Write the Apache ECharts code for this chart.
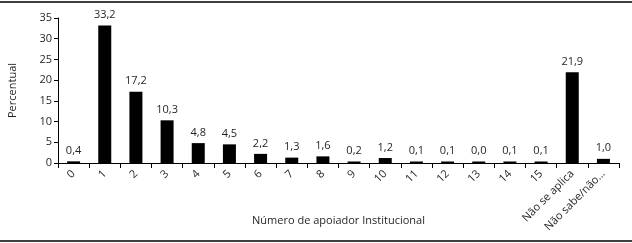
<!DOCTYPE html>
<html><head><meta charset="utf-8">
<script src="https://cdn.jsdelivr.net/npm/echarts@6/dist/echarts.min.js"></script>
<style>html,body{margin:0;padding:0;background:#fff}#c{width:632px;height:243px}</style>
</head><body><div id="c"></div>
<script>
const categories = ['0','1','2','3','4','5','6','7','8','9','10','11','12','13','14','15','Não se aplica','Não sabe/não...'];
const values = [0.4,33.2,17.2,10.3,4.8,4.5,2.2,1.3,1.6,0.2,1.2,0.1,0.1,0.0,0.1,0.1,21.9,1.0];
const yTicks = [0,5,10,15,20,25,30,35];
const xTitle = 'Número de apoiador Institucional';
const yTitle = 'Percentual';

const font = '"Open Sans", "Liberation Sans", sans-serif';
const txt = '#231f20';
const chart = echarts.init(document.getElementById('c'), null, {renderer:'canvas'});
chart.setOption({
  animation:false,
  backgroundColor:'#fff',
  grid:{left:58,right:13,top:18,bottom:80,containLabel:false,outerBoundsMode:'none'},
  graphic:[
    {type:'line',shape:{x1:0,y1:2,x2:632,y2:2},style:{stroke:'#000',lineWidth:1.5}},
    {type:'line',shape:{x1:0,y1:241,x2:632,y2:241},style:{stroke:'#000',lineWidth:1.5}}
  ],
  xAxis:{
    type:'category',data:categories,boundaryGap:true,
    name:xTitle,nameLocation:'middle',nameGap:52,nameMoveOverlap:false,
    nameTextStyle:{fontFamily:font,fontSize:11,color:txt},
    axisLine:{lineStyle:{color:'#000',width:1}},
    axisTick:{show:true,length:5,alignWithLabel:false,lineStyle:{color:'#000'}},
    axisLabel:{rotate:45,interval:0,fontFamily:font,fontSize:11,color:txt,margin:9}
  },
  yAxis:{
    type:'value',min:yTicks[0],max:yTicks[yTicks.length-1],interval:5,
    name:yTitle,nameLocation:'middle',nameGap:40,nameMoveOverlap:false,
    nameTextStyle:{fontFamily:font,fontSize:11,color:txt},
    axisLine:{show:true,lineStyle:{color:'#000'}},
    axisTick:{show:true,length:4,lineStyle:{color:'#000'}},
    splitLine:{show:false},
    axisLabel:{fontFamily:font,fontSize:11,color:txt,margin:6}
  },
  series:[{
    type:'bar',data:values,barWidth:13,barMinHeight:1.5,
    itemStyle:{color:'#000'},
    label:{show:true,position:'top',distance:5,fontFamily:font,fontSize:11,color:txt,
      formatter:p=>p.value.toFixed(1).replace('.',',')}
  }]
});
</script></body></html>
